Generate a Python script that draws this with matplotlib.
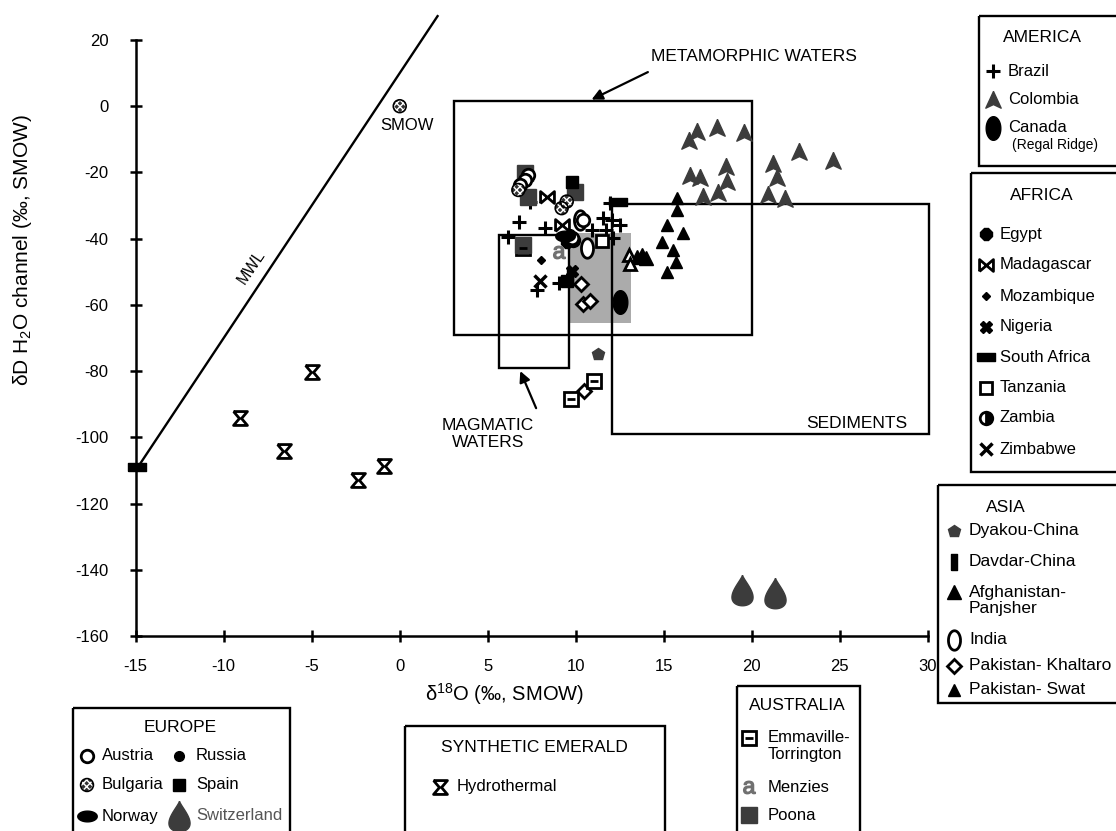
import numpy as np
import matplotlib
matplotlib.use("Agg")
import matplotlib.pyplot as plt
from matplotlib.path import Path
from matplotlib.patches import Rectangle

plt.rcParams["font.family"] = ["Liberation Sans", "DejaVu Sans"]
plt.rcParams["mathtext.fontset"] = "custom"
plt.rcParams["mathtext.rm"] = "Liberation Sans"
plt.rcParams["mathtext.it"] = "Liberation Sans:italic"
plt.rcParams["axes.unicode_minus"] = False
plt.rcParams["hatch.color"] = "white"
plt.rcParams["hatch.linewidth"] = 1.0

# ---- data: delta18O (x) and deltaD (y) ----
brazil_x = [7.40, 6.78, 8.26, 6.14, 11.57, 12.05, 12.52, 10.91, 11.72, 12.14, 11.95, 7.78, 9.07]
brazil_y = [-28.8, -35.0, -36.8, -39.6, -33.8, -34.3, -35.8, -37.4, -37.4, -39.8, -29.3, -55.4, -53.4]
colombia_x = [16.87, 16.45, 18.01, 19.58, 22.69, 18.52, 16.49, 17.06, 18.58, 18.10, 17.22,
              21.19, 21.45, 20.94, 21.89, 24.62]
colombia_y = [-7.8, -10.6, -6.6, -8.0, -13.8, -18.3, -21.0, -21.8, -23.0, -26.1, -27.3,
              -17.5, -21.8, -26.8, -28.0, -16.7]
canada_x = [12.54]
canada_y = [-59.1]
egypt_x = [9.5]
egypt_y = [-41.0]
madagascar_x = [8.35, 9.20]
madagascar_y = [-27.3, -35.8]
mozambique_x = [8.03]
mozambique_y = [-46.4]
nigeria_x = [9.77]
nigeria_y = [-49.9]
safrica_x = [-14.9, 12.38]
safrica_y = [-109.0, -29.0]
tanzania_x = [11.48]
tanzania_y = [-40.6]
zambia_x = [9.85]
zambia_y = [-40.4]
zimbabwe_x = [7.97]
zimbabwe_y = [-52.8]
dyakou_x = [11.27]
dyakou_y = [-74.9]
davdar_x = [9.65]
davdar_y = [-51.5]
afghan_x = [13.5, 13.75, 14.0]
afghan_y = [-45.4, -45.0, -45.8]
open_tri_x = [13.03, 13.09]
open_tri_y = [-44.9, -47.7]
india_x = [10.62, 10.24]
india_y = [-42.9, -34.4]
khaltaro_x = [10.30, 10.41, 10.81, 10.46]
khaltaro_y = [-53.8, -59.8, -58.7, -86.1]
swat_x = [15.74, 15.74, 15.20, 16.08, 14.90, 15.55, 15.68, 15.20]
swat_y = [-27.6, -31.3, -36.0, -38.3, -41.1, -43.4, -47.1, -50.1]
emmaville_x = [7.02, 11.02, 9.73]
emmaville_y = [-42.9, -82.9, -88.3]
menzies_x = [9.07]
menzies_y = [-43.9]
poona_x = [7.12, 7.31, 9.97, 7.02]
poona_y = [-20.3, -27.3, -25.8, -42.0]
austria_x = [7.31, 7.12, 6.84, 10.43, 9.77]
austria_y = [-20.8, -22.3, -23.8, -34.3, -39.8]
russia_x = [9.66]
russia_y = [-38.6]
bulgaria_x = [0.0, 6.74, 9.49, 9.20]
bulgaria_y = [0.0, -25.3, -28.8, -30.8]
spain_x = [9.77, 9.49]
spain_y = [-22.8, -52.8]
norway_x = [9.39]
norway_y = [-39.3]
swiss_x = [19.45, 21.3]
swiss_y = [-146.0, -147.0]
hydro_x = [-9.05, -6.6, -4.96, -2.37, -0.89]
hydro_y = [-94.2, -104.0, -80.2, -112.8, -108.8]

mwl_x = [-15, 2.15]
mwl_y = [-110, 27.2]

# fields: (x0, x1, y0, y1)
metamorphic = (3.1, 20.0, -69.0, 1.7)
sediments = (12.05, 30.1, -99.1, -29.6)
magmatic = (5.62, 9.64, -79.0, -39.0)
grey_field = (9.68, 13.13, -65.4, -38.3)

# ---- marker shapes ----
t = np.linspace(0, 2 * np.pi, 80)
DROP = Path(np.column_stack([np.sin(t) * np.abs(np.sin(t / 2)) ** 1.6, np.cos(t)]))
TALL = Path(np.column_stack([0.62 * np.cos(t), np.sin(t)]))
WIDE = Path(np.column_stack([np.cos(t), 0.55 * np.sin(t)]))
HOURGLASS = [(-1, 1), (1, 1), (0.15, 0), (1, -1), (-1, -1), (-0.15, 0), (-1, 1)]
BOWTIE = [(-1, -0.85), (-1, 0.85), (0, 0), (1, 0.85), (1, -0.85), (0, 0), (-1, -0.85)]
ARROWHEAD = [(0, 1), (0.85, -0.85), (0, -0.45), (-0.85, -0.85), (0, 1)]
HBAR = [(-1, -0.4), (1, -0.4), (1, 0.4), (-1, 0.4), (-1, -0.4)]
VBAR = [(-0.35, -1), (0.35, -1), (0.35, 1), (-0.35, 1), (-0.35, -1)]

K = "black"
DG = "#3c3c3c"
styles = {
    "Brazil": dict(marker="+", ms=10, mew=2.2, color=K),
    "Colombia": dict(marker=ARROWHEAD, ms=13, color=DG),
    "Canada": dict(marker=TALL, ms=17, color=K),
    "Egypt": dict(marker="8", ms=9, color=K),
    "Madagascar": dict(marker=BOWTIE, ms=10, mfc="white", mec=K, mew=2),
    "Mozambique": dict(marker="D", ms=4, color=K),
    "Nigeria": dict(marker="X", ms=9, color=K),
    "South Africa": dict(marker=HBAR, ms=13, color=K),
    "Tanzania": dict(marker="s", ms=8, mfc="white", mec=K, mew=2),
    "Zambia": dict(marker="o", ms=9, mfc=K, mfcalt="white", fillstyle="right", mec=K, mew=2),
    "Zimbabwe": dict(marker="x", ms=9, mew=2.5, color=K),
    "Dyakou-China": dict(marker="p", ms=9, color=DG),
    "Davdar-China": dict(marker=VBAR, ms=12, color=K),
    "Afghanistan": dict(marker="^", ms=10, color=K),
    "open_tri": dict(marker="^", ms=9, mfc="white", mec=K, mew=2),
    "India": dict(marker=TALL, ms=14, mfc="white", mec=K, mew=2),
    "Khaltaro": dict(marker="D", ms=7, mfc="white", mec=K, mew=2),
    "Swat": dict(marker="^", ms=8, color=K),
    "Emmaville": dict(marker="s", ms=10, mfc="white", mec=K, mew=2),
    "Menzies": dict(marker=r"$\mathrm{a}$", ms=9, color="#707070"),
    "Poona": dict(marker="s", ms=12, color=DG),
    "Austria": dict(marker="o", ms=9, mfc="white", mec=K, mew=2),
    "Russia": dict(marker="o", ms=7, color=K),
    "Spain": dict(marker="s", ms=9, color=K),
    "Norway": dict(marker=WIDE, ms=14, color=K),
    "Switzerland": dict(marker=DROP, ms=22, color=DG),
    "Hydrothermal": dict(marker=HOURGLASS, ms=10, mfc="white", mec=K, mew=2),
}


def draw(a, key, xs, ys):
    if key == "Bulgaria":
        a.scatter(xs, ys, s=85, marker="o", facecolor="#333333", edgecolor="white",
                  hatch="xxxxx", linewidths=0, zorder=5, clip_on=False)
        a.scatter(xs, ys, s=85, marker="o", facecolor="none", edgecolor=K,
                  linewidths=1.2, zorder=5, clip_on=False)
        return
    a.plot(xs, ys, ls="none", zorder=5, clip_on=False, **styles[key])
    if key == "Emmaville":
        a.plot(xs, ys, ls="none", marker="_", ms=6, mew=2, color=K, zorder=6, clip_on=False)


fig = plt.figure(figsize=(11.16, 8.31), dpi=100)
ax = fig.add_axes([0.1216, 0.2347, 0.7097, 0.7172])
ax.set_xlim(-15, 30)
ax.set_ylim(-160, 20)
for s in ["top", "right"]:
    ax.spines[s].set_visible(False)
for s in ["left", "bottom"]:
    ax.spines[s].set_linewidth(1.8)
ax.set_xticks(range(-15, 31, 5))
ax.set_yticks(range(-160, 21, 20))
ax.tick_params(axis="both", direction="inout", length=9, width=1.8, labelsize=12)
ax.tick_params(axis="y", pad=15)
ax.tick_params(axis="x", pad=12)

ax.set_ylabel("δD H$_2$O channel (‰, SMOW)", fontsize=15)
ax.yaxis.set_label_coords(-0.128, 0.648)

# fields
x0, x1, y0, y1 = grey_field
ax.add_patch(Rectangle((x0, y0), x1 - x0, y1 - y0, facecolor="#ababab", edgecolor="none", zorder=1))
for box in (metamorphic, sediments, magmatic):
    x0, x1, y0, y1 = box
    ax.add_patch(Rectangle((x0, y0), x1 - x0, y1 - y0, fill=False, lw=1.7,
                           edgecolor=K, zorder=2, clip_on=False))
ax.plot(mwl_x, mwl_y, color=K, lw=1.7, clip_on=False, zorder=2)

# points
draw(ax, "Brazil", brazil_x, brazil_y)
draw(ax, "Colombia", colombia_x, colombia_y)
draw(ax, "Canada", canada_x, canada_y)
draw(ax, "Egypt", egypt_x, egypt_y)
draw(ax, "Madagascar", madagascar_x, madagascar_y)
draw(ax, "Mozambique", mozambique_x, mozambique_y)
draw(ax, "Nigeria", nigeria_x, nigeria_y)
draw(ax, "South Africa", safrica_x, safrica_y)
draw(ax, "Tanzania", tanzania_x, tanzania_y)
draw(ax, "Zambia", zambia_x, zambia_y)
draw(ax, "Zimbabwe", zimbabwe_x, zimbabwe_y)
draw(ax, "Dyakou-China", dyakou_x, dyakou_y)
draw(ax, "Davdar-China", davdar_x, davdar_y)
draw(ax, "Afghanistan", afghan_x, afghan_y)
draw(ax, "open_tri", open_tri_x, open_tri_y)
draw(ax, "India", india_x, india_y)
draw(ax, "Khaltaro", khaltaro_x, khaltaro_y)
draw(ax, "Swat", swat_x, swat_y)
draw(ax, "Emmaville", emmaville_x, emmaville_y)
draw(ax, "Menzies", menzies_x, menzies_y)
draw(ax, "Poona", poona_x, poona_y)
draw(ax, "Austria", austria_x, austria_y)
draw(ax, "Russia", russia_x, russia_y)
draw(ax, "Bulgaria", bulgaria_x, bulgaria_y)
draw(ax, "Spain", spain_x, spain_y)
draw(ax, "Norway", norway_x, norway_y)
draw(ax, "Switzerland", swiss_x, swiss_y)
draw(ax, "Hydrothermal", hydro_x, hydro_y)

# annotations
arrow = dict(arrowstyle="-|>", lw=1.6, color=K, mutation_scale=16, shrinkA=0, shrinkB=0)
ax.annotate("", xy=(10.9, 2.0), xytext=(14.1, 10.3), arrowprops=arrow, annotation_clip=False)
ax.annotate("", xy=(6.85, -80.0), xytext=(7.75, -91.2), arrowprops=arrow, annotation_clip=False)
ax.text(14.3, 15.0, "METAMORPHIC WATERS", fontsize=12.5, ha="left", va="center", clip_on=False)
ax.text(5.03, -99.0, "MAGMATIC\nWATERS", fontsize=12.5, ha="center", va="center", linespacing=1.2)
ax.text(25.98, -95.7, "SEDIMENTS", fontsize=12.5, ha="center", va="center")
ax.text(-8.4, -48.5, "MWL", fontsize=11.5, ha="center", va="center", rotation=56)
ax.text(0.4, -5.7, "SMOW", fontsize=12, ha="center", va="center")

# ---- legend boxes drawn in pixel space ----
ov = fig.add_axes([0, 0, 1, 1])
ov.set_xlim(0, 1116)
ov.set_ylim(831, 0)
ov.axis("off")

ov.text(505, 694, "δ$^{18}$O (‰, SMOW)", fontsize=14.5, ha="center", va="center")


def box(x0, y0, x1, y1):
    ov.add_patch(Rectangle((x0, y0), x1 - x0, y1 - y0, fill=False, lw=1.7, edgecolor=K, clip_on=False))


def item(key, mx, tx, y, label, color=K, size=12):
    draw(ov, key, [mx], [y])
    ov.text(tx, y, label, fontsize=size, ha="left", va="center", color=color)


# America
box(979, 16, 1125, 166)
ov.text(1042, 38, "AMERICA", fontsize=12.5, ha="center", va="center")
item("Brazil", 993, 1008, 71, "Brazil")
item("Colombia", 993, 1008, 100, "Colombia")
item("Canada", 993, 1008, 128, "Canada")
ov.text(1012, 145, "(Regal Ridge)", fontsize=10, ha="left", va="center")

# Africa
box(971, 173, 1125, 472)
ov.text(1042, 196, "AFRICA", fontsize=12.5, ha="center", va="center")
africa = [("Egypt", 234, "Egypt"), ("Madagascar", 265, "Madagascar"),
          ("Mozambique", 296, "Mozambique"), ("Nigeria", 327, "Nigeria"),
          ("South Africa", 357, "South Africa"), ("Tanzania", 388, "Tanzania"),
          ("Zambia", 418, "Zambia"), ("Zimbabwe", 449, "Zimbabwe")]
for key, y, lab in africa:
    item(key, 986, 1000, y, lab)

# Asia
box(938, 485, 1125, 703)
ov.text(1006, 507, "ASIA", fontsize=12.5, ha="center", va="center")
item("Dyakou-China", 954, 969, 531, "Dyakou-China", size=12.5)
item("Davdar-China", 954, 969, 562, "Davdar-China", size=12.5)
item("Afghanistan", 954, 969, 592, "Afghanistan-", size=12.5)
ov.text(969, 609, "Panjsher", fontsize=12.5, ha="left", va="center")
item("India", 954, 969, 640, "India", size=12.5)
item("Khaltaro", 954, 969, 666, "Pakistan- Khaltaro", size=12.5)
item("Swat", 954, 969, 690, "Pakistan- Swat", size=12.5)

# Australia
box(737, 686, 860, 840)
ov.text(797, 705, "AUSTRALIA", fontsize=12.5, ha="center", va="center")
item("Emmaville", 749, 768, 738, "Emmaville-")
ov.text(768, 755, "Torrington", fontsize=12, ha="left", va="center")
item("Menzies", 749, 768, 787, "Menzies")
item("Poona", 749, 768, 815, "Poona")

# Europe
box(73, 708, 290, 840)
ov.text(180, 727, "EUROPE", fontsize=12.5, ha="center", va="center")
item("Austria", 87, 102, 756, "Austria")
item("Bulgaria", 87, 102, 785, "Bulgaria")
item("Norway", 87, 102, 816, "Norway")
item("Russia", 179, 196, 756, "Russia")
item("Spain", 179, 196, 785, "Spain")
item("Switzerland", 179, 196, 816, "Switzerland", color="#555555")

# Synthetic
box(405, 726, 665, 840)
ov.text(534, 748, "SYNTHETIC EMERALD", fontsize=12.5, ha="center", va="center")
item("Hydrothermal", 440, 457, 787, "Hydrothermal")

fig.savefig("out.png", dpi=100)
